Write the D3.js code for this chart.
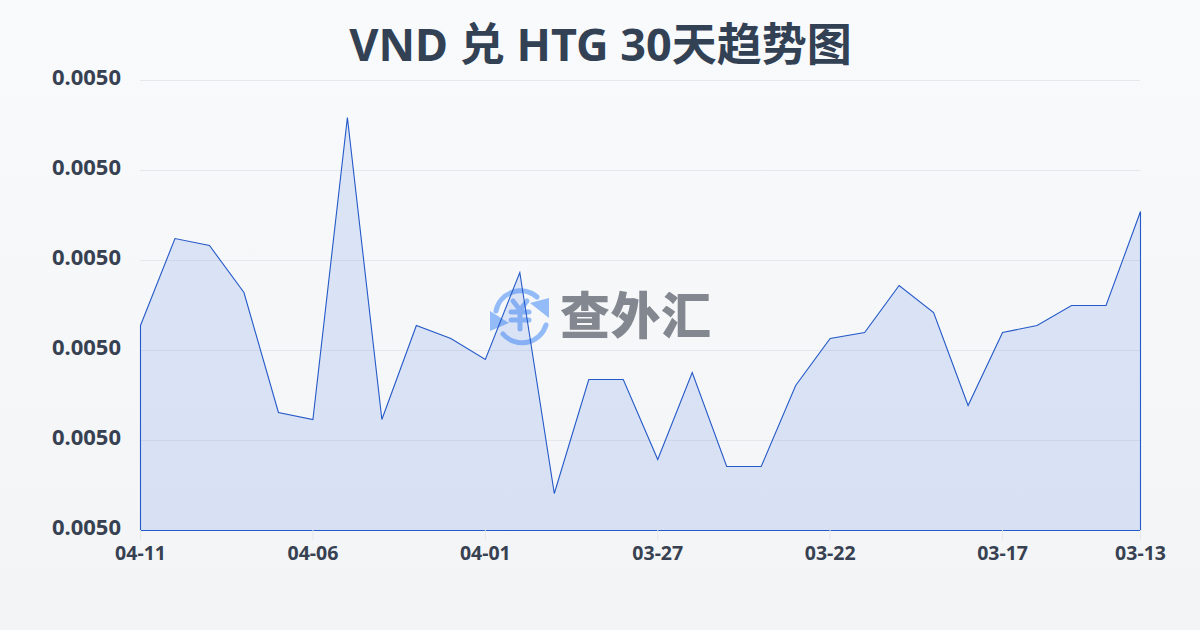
<!DOCTYPE html>
<html><head><meta charset="utf-8">
<script src="https://cdn.jsdelivr.net/npm/d3@7"></script>
<style>
html,body{margin:0;padding:0;width:1200px;height:630px;overflow:hidden}
svg{display:block}
</style></head><body>
<svg id="c" width="1200" height="630"></svg>
<script>
const title = "VND 兑 HTG 30天趋势图";
const dates = ["04-11","04-10","04-09","04-08","04-07","04-06","04-05","04-04","04-03","04-02","04-01","03-31","03-30","03-29","03-28","03-27","03-26","03-25","03-24","03-23","03-22","03-21","03-20","03-19","03-18","03-17","03-16","03-15","03-14","03-13"];
const rates = [0.00500278,0.00501244,0.00501167,0.00500644,0.00499311,0.00499233,0.00502589,0.00499233,0.00500278,0.00500133,0.00499900,0.00500867,0.00498411,0.00499678,0.00499678,0.00498789,0.00499756,0.00498711,0.00498711,0.00499611,0.00500133,0.00500200,0.00500722,0.00500422,0.00499389,0.00500200,0.00500278,0.00500500,0.00500500,0.00501544];
const yTicks = [0.00498,0.00499,0.00500,0.00501,0.00502,0.00503];
const xTickDates = ["04-11","04-06","04-01","03-27","03-22","03-17","03-13"];
const font = "'Noto Sans','Noto Sans CJK SC',sans-serif";

const svg = d3.select("#c");
const defs = svg.append("defs");
const bg = defs.append("linearGradient").attr("id","bg").attr("x1",0).attr("y1",0).attr("x2",0).attr("y2",1);
bg.append("stop").attr("offset","0%").attr("stop-color","#f8fafc");
bg.append("stop").attr("offset","100%").attr("stop-color","#f3f4f6");
svg.append("rect").attr("width",1200).attr("height",630).attr("fill","url(#bg)");

const x = d3.scalePoint().domain(dates).range([140.5,1140.5]);
const y = d3.scaleLinear().domain([0.00498,0.00503]).range([530.5,80.5]);

const gy = svg.append("g").attr("transform","translate(140,-0.5)")
  .call(d3.axisLeft(y).tickValues(yTicks).tickSize(-1000).tickFormat(d=>d.toFixed(4)));
gy.select(".domain").remove();
gy.selectAll(".tick line").attr("stroke","#e5e7eb").attr("stroke-width",1);
gy.selectAll(".tick text").attr("x",-19).attr("y",-3).attr("dy","0.35em").attr("fill","#374151")
  .attr("font-family",font).attr("font-weight",700).attr("font-size",22);

const wm = svg.append("g").attr("transform","translate(520,315)");
const blue = "#93bbf7";
wm.append("path").attr("d","M-24,-4 A25,25 0 0 1 17,-18").attr("fill","none").attr("stroke",blue).attr("stroke-width",5).attr("stroke-linecap","round");
wm.append("path").attr("d","M26,10 A25,25 0 0 1 -17,19").attr("fill","none").attr("stroke",blue).attr("stroke-width",5).attr("stroke-linecap","round");
wm.append("path").attr("d","M10,-12 L29,-17 L29,3 Z").attr("fill",blue);
wm.append("path").attr("d","M-30,-4 L-11,8 L-30,16 Z").attr("fill",blue);
wm.append("path").attr("d","M-7,-14 L0,-5 L7,-14 M-9,-3 H9 M-9,5 H9 M0,-5 V14").attr("fill","none").attr("stroke",blue).attr("stroke-width",5).attr("stroke-linecap","round");
svg.append("text").attr("x",560).attr("y",334).attr("font-family","'Noto Sans CJK SC'").attr("font-weight",900)
  .attr("font-size",50).attr("fill","#83878f").attr("textLength",151).text("查外汇");

const area = d3.area().x(d=>x(d.d)).y0(y(0.00498)).y1(d=>y(d.v));
const pts = dates.map((d,i)=>({d,v:rates[i]}));
svg.append("path").datum(pts).attr("d",area).attr("fill","#3b6fe0").attr("fill-opacity",0.15)
  .attr("stroke","#2459c8").attr("stroke-width",1.1);

const gx = svg.append("g").attr("transform","translate(-0.5,530)")
  .call(d3.axisBottom(x).tickValues(xTickDates).tickSize(10).tickPadding(6));
gx.select(".domain").remove();
gx.selectAll(".tick line").attr("stroke","#e5e7eb").attr("stroke-width",1);
gx.selectAll(".tick text").attr("fill","#374151").attr("font-family",font).attr("font-weight",700).attr("font-size",19.5);

svg.append("text").attr("x",600.5).attr("y",60.5).attr("text-anchor","middle").attr("font-family",font)
  .attr("font-weight",700).attr("font-size",45).attr("fill","#334155").text(title);
</script>
</body></html>
